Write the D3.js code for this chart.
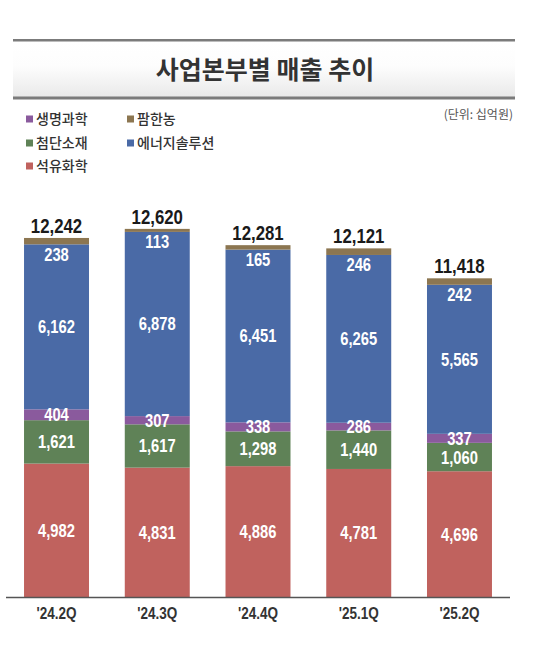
<!DOCTYPE html>
<html><head><meta charset="utf-8">
<script src="https://cdn.jsdelivr.net/npm/d3@7/dist/d3.min.js"></script>
<style>
html,body{margin:0;padding:0;background:#fff;}
svg{display:block;}
.num{font-family:"Liberation Sans","Arial",sans-serif;font-weight:bold;}
.kr{font-family:"Noto Sans CJK KR","Noto Sans",sans-serif;}
</style></head>
<body>
<svg id="c" width="533" height="652"></svg>
<script>
const categories = ["'24.2Q","'24.3Q","'24.4Q","'25.1Q","'25.2Q"];
const seriesNames = ["석유화학","첨단소재","생명과학","에너지솔루션","팜한농"];
const petrochem = [4982,4831,4886,4781,4696];
const advMat = [1621,1617,1298,1440,1060];
const lifeSci = [404,307,338,286,337];
const energy = [6162,6878,6451,6265,5565];
const farm = [238,113,165,246,242];
const totals = [12242,12620,12281,12121,11418];
const colors = ["#C0625E","#5F8257","#8A5A9D","#4A6AA6","#8C7651"];

const svg = d3.select("#c");
const data = categories.map((c,i)=>({cat:c,"석유화학":petrochem[i],"첨단소재":advMat[i],"생명과학":lifeSci[i],"에너지솔루션":energy[i],"팜한농":farm[i],total:totals[i]}));
const NARROW = 0.82;
function narrowText(parent, x, y, txt, size, fill, dy){
  const gg = parent.append("g").attr("transform",`translate(${x},${y}) scale(${NARROW},1)`);
  return gg.append("text").attr("class","num").attr("text-anchor","middle").attr("font-size",size)
    .attr("fill",fill).attr("dy",dy||0).text(txt);
}

// title band
const defs = svg.append("defs");
const g = defs.append("linearGradient").attr("id","tg").attr("x1",0).attr("y1",0).attr("x2",0).attr("y2",1);
g.append("stop").attr("offset","0%").attr("stop-color","#ffffff");
g.append("stop").attr("offset","45%").attr("stop-color","#fdfdfd");
g.append("stop").attr("offset","100%").attr("stop-color","#e9e9e9");
svg.append("rect").attr("x",13).attr("y",41).attr("width",502).attr("height",56).attr("fill","url(#tg)");
svg.append("rect").attr("x",13).attr("y",39).attr("width",502).attr("height",2.5).attr("fill","#7b7b7b");
svg.append("rect").attr("x",13).attr("y",96.5).attr("width",502).attr("height",3).attr("fill","#7b7b7b");
svg.append("text").attr("class","kr").attr("x",265).attr("y",79).attr("text-anchor","middle")
  .attr("font-size",25).attr("font-weight","bold").attr("fill","#333").text("사업본부별 매출 추이");

// legend
const legendItems = [
  {name:"생명과학",color:colors[2],x:26,y:119},
  {name:"팜한농",color:colors[4],x:127,y:119},
  {name:"첨단소재",color:colors[1],x:26,y:143},
  {name:"에너지솔루션",color:colors[3],x:127,y:143},
  {name:"석유화학",color:colors[0],x:26,y:166}
];
const lg = svg.append("g");
legendItems.forEach(d=>{
  lg.append("rect").attr("x",d.x).attr("y",d.y-3.5).attr("width",7).attr("height",7).attr("fill",d.color);
  lg.append("text").attr("class","kr").attr("x",d.x+10).attr("y",d.y+5).attr("font-size",14).attr("font-weight",500).attr("fill","#333").text(d.name);
});
svg.append("text").attr("class","kr").attr("x",513).attr("y",119).attr("text-anchor","end")
  .attr("font-size",12).attr("fill","#555").text("(단위: 십억원)");

// scales
const base = 597;
const y = d3.scaleLinear().domain([0,14000]).range([base, base-14000*0.02678]);
const x = d3.scaleBand().domain(categories).range([6,510]).paddingInner(0.355).paddingOuter(0.179);

const stack = d3.stack().keys(seriesNames)(data);
const layers = svg.append("g").selectAll("g").data(stack).join("g").attr("fill",(d,i)=>colors[i]);
layers.selectAll("rect").data(d=>d).join("rect")
  .attr("x",d=>x(d.data.cat)).attr("width",x.bandwidth())
  .attr("y",d=>y(d[1])).attr("height",d=>y(d[0])-y(d[1]));

// value labels
const lbl = svg.append("g");
stack.forEach((layer,li)=>{
  layer.forEach(d=>{
    const v = d[1]-d[0];
    let cy;
    if (li===4) cy = y(d[0]) + 10;
    else cy = (y(d[0])+y(d[1]))/2;
    narrowText(lbl, x(d.data.cat)+x.bandwidth()/2, cy, d3.format(",")(v), 18, "#fff", "0.36em");
  });
});

// totals
const tg2 = svg.append("g");
stack[4].forEach(d=>{
  narrowText(tg2, x(d.data.cat)+x.bandwidth()/2, y(d[1])-5, d3.format(",")(d.data.total), 20.5, "#1a1a1a");
});

// axis
const ax = svg.append("g").attr("transform",`translate(0,${base})`).call(d3.axisBottom(x).tickSize(0).tickPadding(10));
ax.select(".domain").attr("stroke","#555").attr("stroke-width",1.5).attr("d","M6,0.5H510");
ax.selectAll(".tick text").each(function(){
  const t = d3.select(this);
  t.attr("class","num").attr("font-size",16.5).attr("fill","#333").attr("font-family",null)
   .attr("transform",`scale(${NARROW},1)`);
});
</script>
</body></html>
